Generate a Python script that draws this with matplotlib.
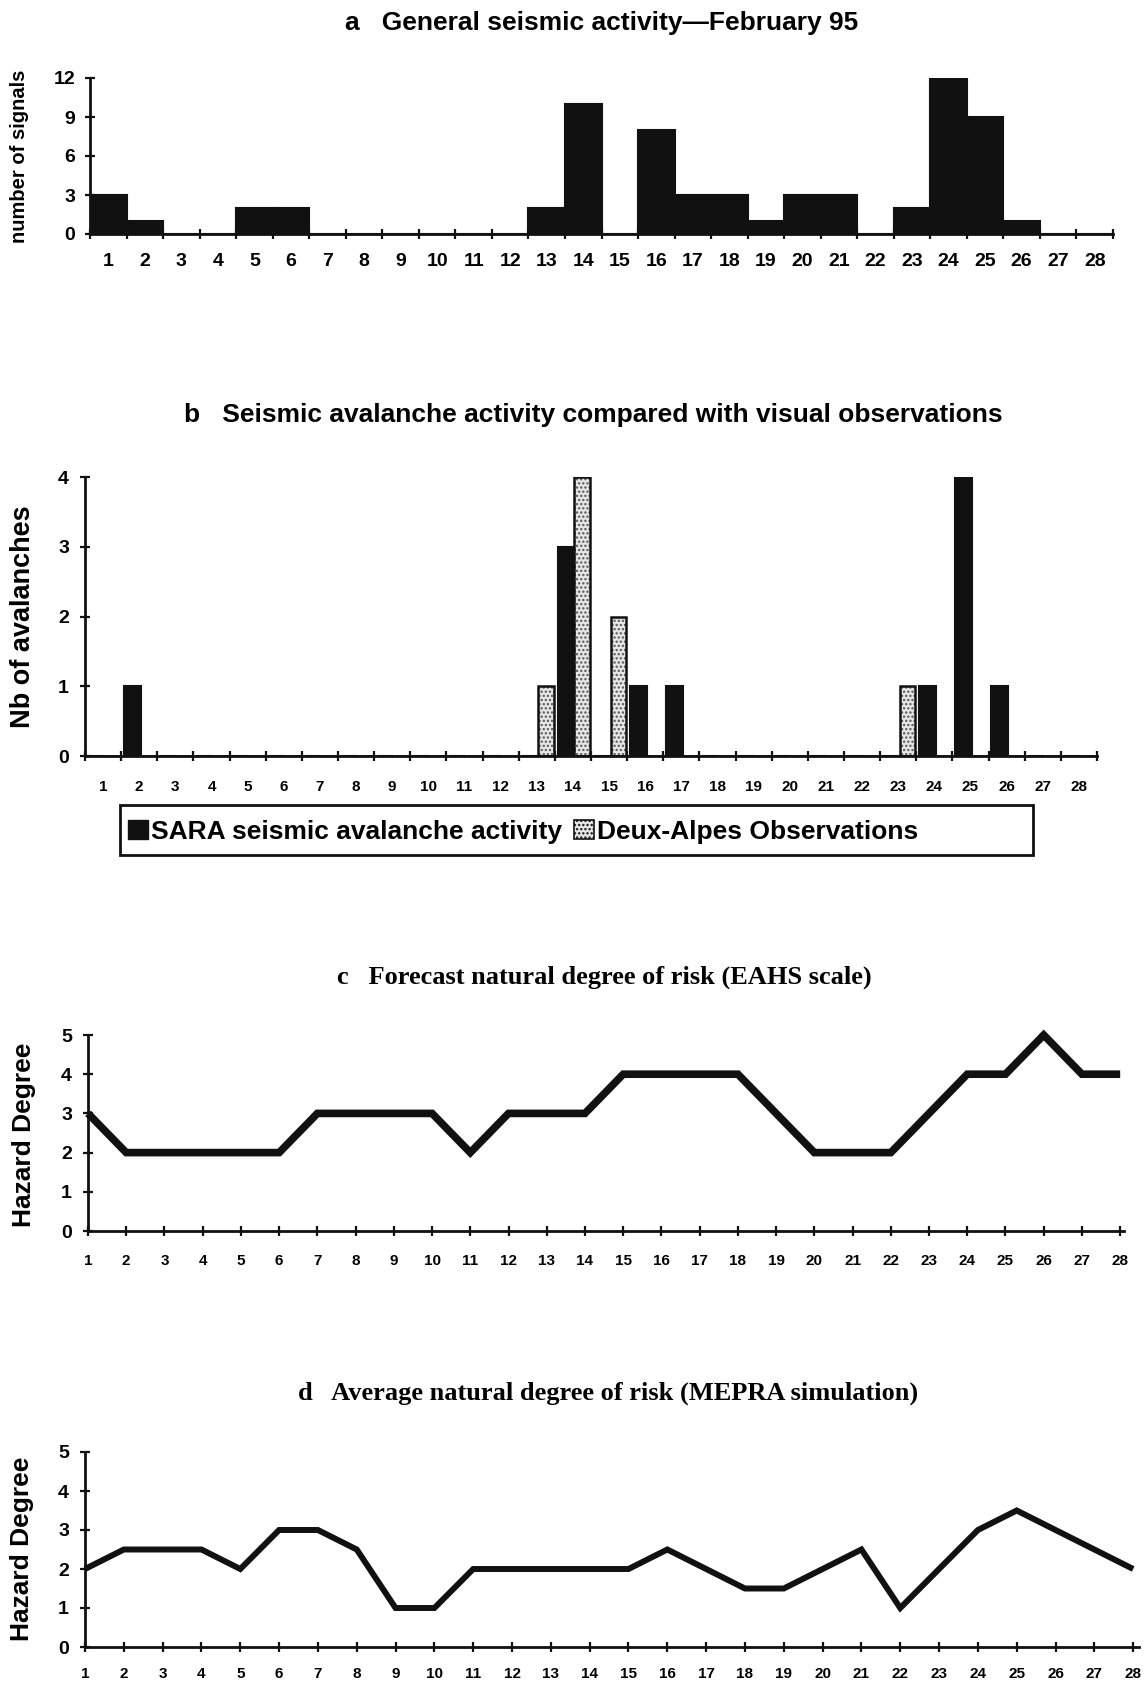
import matplotlib
matplotlib.use("Agg")
import matplotlib.pyplot as plt
from matplotlib.patches import Patch, Rectangle
import numpy as np

# February 1995, day of month
days = list(range(1, 29))

# a: seismic signals per day
signals = [3, 1, 0, 0, 2, 2, 0, 0, 0, 0, 0, 0, 2, 10, 0, 8, 3, 3, 1, 3, 3, 0, 2, 12, 9, 1, 0, 0]

# b: avalanches detected by SARA and observed at Deux-Alpes
sara = [0, 1, 0, 0, 0, 0, 0, 0, 0, 0, 0, 0, 0, 3, 0, 1, 1, 0, 0, 0, 0, 0, 0, 1, 4, 1, 0, 0]
deux_alpes = [0, 0, 0, 0, 0, 0, 0, 0, 0, 0, 0, 0, 1, 4, 2, 0, 0, 0, 0, 0, 0, 0, 1, 0, 0, 0, 0, 0]

# c: forecast hazard degree (EAHS scale)
forecast = [3, 2, 2, 2, 2, 2, 3, 3, 3, 3, 2, 3, 3, 3, 4, 4, 4, 4, 3, 2, 2, 2, 3, 4, 4, 5, 4, 4]

# d: MEPRA simulated average hazard degree
mepra = [2, 2.5, 2.5, 2.5, 2, 3, 3, 2.5, 1, 1, 2, 2, 2, 2, 2, 2.5, 2, 1.5, 1.5, 2, 2.5, 1, 2, 3, 3.5, 3, 2.5, 2]

W, H = 1144, 1682
SANS = ["Liberation Sans", "DejaVu Sans"]
SERIF = ["Liberation Serif", "DejaVu Serif"]
INK = "#111111"

plt.rcParams["font.family"] = SANS
plt.rcParams["font.weight"] = "bold"
plt.rcParams["hatch.linewidth"] = 1.1
plt.rcParams["hatch.color"] = "#555555"

fig = plt.figure(figsize=(W / 100, H / 100), dpi=100)
fig.patch.set_facecolor("white")


def px_axes(left, right, top, bottom):
    # build an axes from pixel edges measured from the top-left corner
    return fig.add_axes([left / W, 1 - bottom / H, (right - left) / W, (bottom - top) / H])


def style(ax, xsize, ysize, xpad, ypad):
    for s in ("top", "right"):
        ax.spines[s].set_visible(False)
    for s in ("left", "bottom"):
        ax.spines[s].set_linewidth(2.0)
        ax.spines[s].set_color(INK)
    ax.tick_params(axis="both", which="major", direction="inout", length=7, width=1.6, color=INK)
    ax.tick_params(axis="x", which="both", labelsize=xsize, pad=xpad)
    ax.tick_params(axis="y", labelsize=ysize, pad=ypad)
    ax.set_facecolor("none")


def boundary_ticks(ax):
    # tick marks between days, day numbers centred under each bar
    ax.set_xticks(np.arange(0.5, 29, 1))
    ax.set_xticklabels([])
    ax.set_xticks(days, minor=True)
    ax.set_xticklabels([str(d) for d in days], minor=True, fontweight="bold")
    ax.tick_params(axis="x", which="minor", length=0)


# ---- a: general seismic activity ----
ax1 = px_axes(90, 1113, 78, 234)
ax1.bar(days, signals, width=1.0, color=INK, edgecolor=INK, linewidth=1.5)
ax1.set_xlim(0.5, 28.5)
ax1.set_ylim(0, 12)
ax1.set_yticks([0, 3, 6, 9, 12])
style(ax1, 14, 14, 14, 7)
boundary_ticks(ax1)
fig.text(602 / W, 1 - 23 / H, "a   General seismic activity\u2014February 95",
         ha="center", va="center", fontsize=19, fontweight="bold")
fig.text(20 / W, 1 - 156 / H, "number of signals", rotation=90,
         ha="center", va="center", fontsize=14.5, fontweight="bold")

# ---- b: seismic avalanches vs visual observations ----
ax2 = px_axes(85, 1097, 477, 756)
x = np.array(days)
ax2.bar(x - 0.42, sara, width=0.46, align="edge", color=INK, edgecolor=INK, linewidth=1.5)
ax2.bar(x + 0.04, deux_alpes, width=0.43, align="edge", color="#e6e6e6",
        edgecolor="#555555", hatch="....", linewidth=0)
ax2.bar(x + 0.04, deux_alpes, width=0.43, align="edge", fill=False,
        edgecolor=INK, linewidth=1.8)
ax2.set_xlim(0.5, 28.5)
ax2.set_ylim(0, 4)
ax2.set_yticks([0, 1, 2, 3, 4])
style(ax2, 11, 14, 17, 8)
boundary_ticks(ax2)
fig.text(593 / W, 1 - 415 / H, "b   Seismic avalanche activity compared with visual observations",
         ha="center", va="center", fontsize=19, fontweight="bold")
fig.text(23 / W, 1 - 617 / H, "Nb of avalanches", rotation=90,
         ha="center", va="center", fontsize=19.5, fontweight="bold")

fig.patches.append(Rectangle((120 / W, 1 - 855 / H), 913 / W, 50 / H, transform=fig.transFigure,
                             fill=False, edgecolor=INK, linewidth=2.0))
handles = [Patch(facecolor=INK, edgecolor=INK, label="SARA seismic avalanche activity"),
           Patch(facecolor="#e6e6e6", edgecolor=INK, hatch="....", linewidth=1.2,
                 label="Deux-Alpes Observations")]
fig.legend(handles=handles, loc="center left", bbox_to_anchor=(128 / W, 1 - 832 / H),
           ncol=2, frameon=False, prop={"weight": "bold", "size": 19},
           handlelength=0.75, handleheight=0.75, handletextpad=0.12, columnspacing=0.45,
           borderpad=0, borderaxespad=0)

# ---- c: forecast hazard degree ----
ax3 = px_axes(88, 1124, 1035, 1231)
ax3.plot(days, forecast, color=INK, linewidth=5.5, solid_joinstyle="miter",
         solid_capstyle="butt", clip_on=False, zorder=3)
ax3.set_xlim(1, 28.1)
ax3.set_ylim(0, 5)
ax3.set_xticks(days)
ax3.set_xticklabels([str(d) for d in days], fontweight="bold")
style(ax3, 11, 14, 13, 8)
fig.text(604 / W, 1 - 977 / H, "c   Forecast natural degree of risk (EAHS scale)",
         ha="center", va="center", fontsize=19, fontweight="bold", family=SERIF)
fig.text(24 / W, 1 - 1135 / H, "Hazard Degree", rotation=90,
         ha="center", va="center", fontsize=19, fontweight="bold")

# ---- d: MEPRA simulation ----
ax4 = px_axes(85, 1139, 1452, 1647)
ax4.plot(days, mepra, color=INK, linewidth=4.3, solid_joinstyle="miter",
         solid_capstyle="butt", clip_on=False, zorder=3)
ax4.set_xlim(1, 28.15)
ax4.set_ylim(0, 5)
ax4.set_xticks(days)
ax4.set_xticklabels([str(d) for d in days], fontweight="bold")
style(ax4, 11, 14, 11, 8)
fig.text(608 / W, 1 - 1393 / H, "d   Average natural degree of risk (MEPRA simulation)",
         ha="center", va="center", fontsize=19, fontweight="bold", family=SERIF)
fig.text(22 / W, 1 - 1549 / H, "Hazard Degree", rotation=90,
         ha="center", va="center", fontsize=19, fontweight="bold")

fig.savefig("out.png", dpi=100, facecolor="white")
